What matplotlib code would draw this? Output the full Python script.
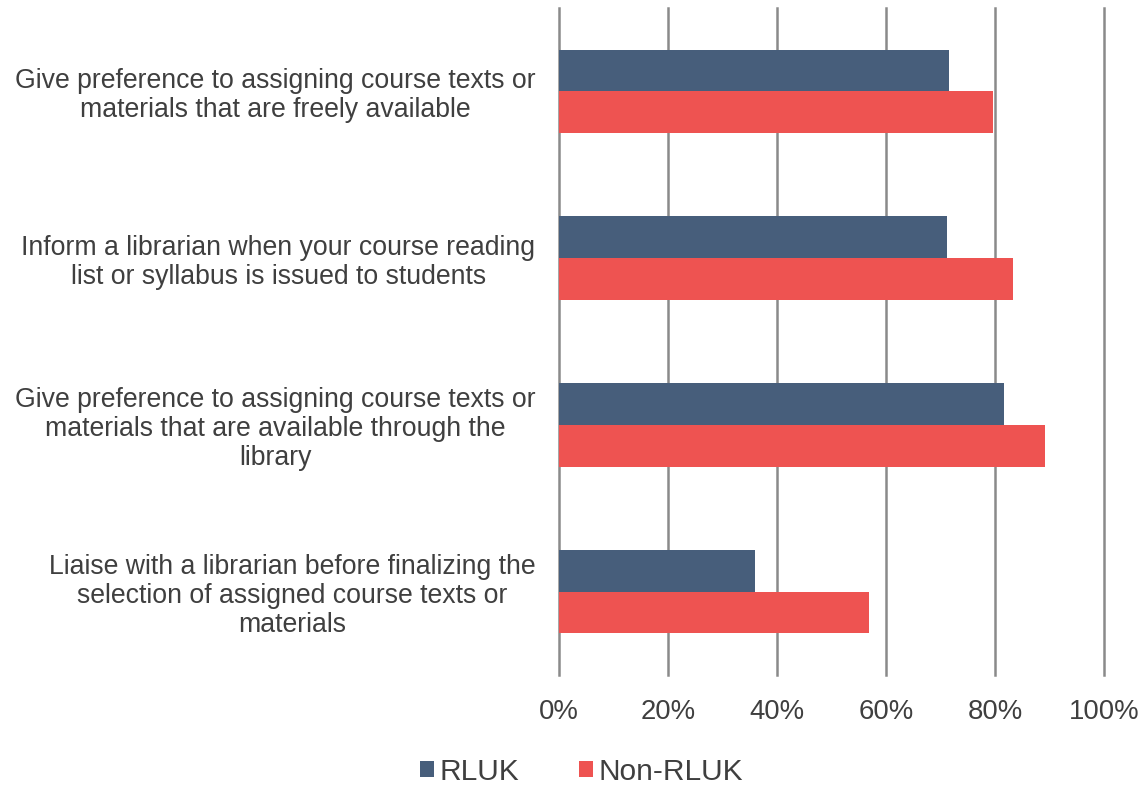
import matplotlib.pyplot as plt
import numpy as np

plt.rcParams['font.family'] = ['Liberation Sans', 'DejaVu Sans']

categories = [
    'Give preference to assigning course texts or\nmaterials that are freely available',
    'Inform a librarian when your course reading\nlist or syllabus is issued to students',
    'Give preference to assigning course texts or\nmaterials that are available through the\nlibrary',
    'Liaise with a librarian before finalizing the\nselection of assigned course texts or\nmaterials',
]
rluk = [71.5, 71.2, 81.7, 35.9]
non_rluk = [79.6, 83.3, 89.1, 56.9]
xticks = [0, 20, 40, 60, 80, 100]
xtick_labels = ['0%', '20%', '40%', '60%', '80%', '100%']

fig = plt.figure(figsize=(11.45, 7.88), dpi=100)
ax = fig.add_axes([559 / 1145, 1 - 675 / 788, (1104 - 559) / 1145, (675 - 8) / 788])

y = np.arange(len(categories))
h = 0.25
ax.barh(y - h / 2, rluk, height=h, color='#475E7B', label='RLUK', zorder=3)
ax.barh(y + h / 2, non_rluk, height=h, color='#EE5351', label='Non-RLUK', zorder=3)

ax.set_ylim(len(categories) - 0.5, -0.5)
ax.set_xlim(0, 100)
ax.set_xticks(xticks)
ax.set_xticklabels(xtick_labels)
ax.set_yticks(y)
ax.set_yticklabels(categories, linespacing=1.15)
for lab in ax.get_yticklabels():
    lab.set_multialignment('center')

ax.grid(axis='x', color='#8a8a8a', linewidth=1.8, zorder=0)
for gl in ax.get_xgridlines():
    gl.set_clip_on(False)
for s in ax.spines.values():
    s.set_visible(False)
ax.tick_params(axis='both', length=0, colors='#3f3f3f')
ax.tick_params(axis='y', labelsize=19.2, pad=17)
ax.tick_params(axis='x', labelsize=19.8, pad=17)

fig.legend(loc='center', bbox_to_anchor=(0.508, 1 - 772 / 788), ncol=2, frameon=False,
           fontsize=21.5, handlelength=0.45, handleheight=0.45, columnspacing=2.0,
           handletextpad=0.2, labelcolor='#3f3f3f')

fig.savefig('out.png', dpi=100)
